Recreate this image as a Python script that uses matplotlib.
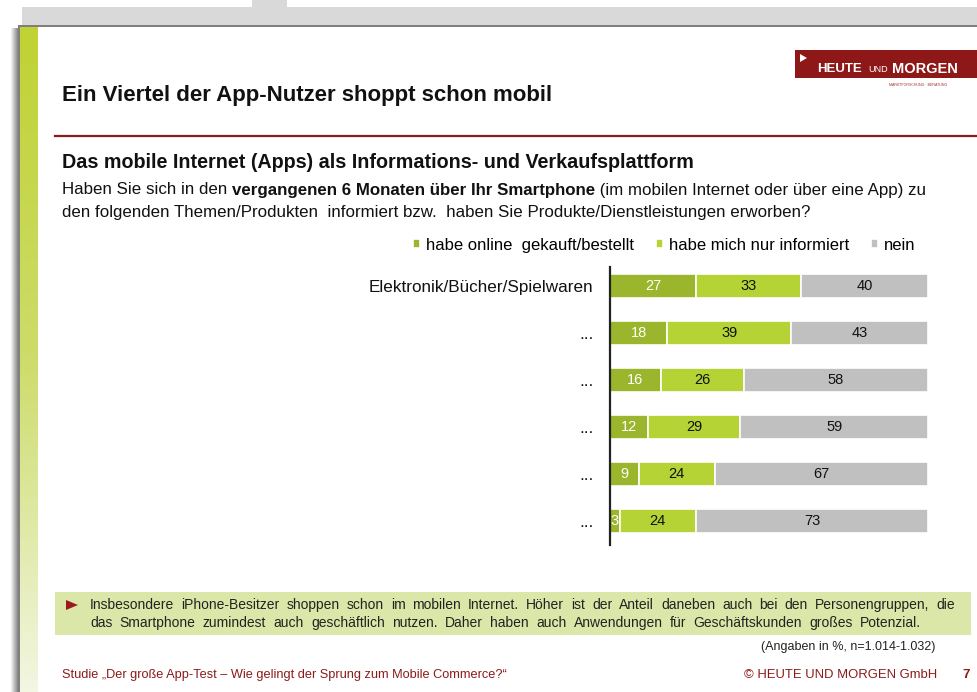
import matplotlib
matplotlib.use("Agg")
import matplotlib.pyplot as plt
import numpy as np
from matplotlib.patches import Rectangle, Polygon
from matplotlib.colors import LinearSegmentedColormap

plt.rcParams['font.family'] = ['Liberation Sans', 'DejaVu Sans']

# Daten
kategorien = ["Elektronik/Bücher/Spielwaren", "...", "...", "...", "...", "..."]
gekauft = [27, 18, 16, 12, 9, 3]
informiert = [33, 39, 26, 29, 24, 24]
nein = [40, 43, 58, 59, 67, 73]
serien = ["habe online  gekauft/bestellt", "habe mich nur informiert", "nein"]

DUNKELGRUEN = '#9bb52c'
HELLGRUEN = '#b5d334'
GRAU = '#c0c0c0'
ROT = '#8b1a1a'

W, H = 978, 692
fig = plt.figure(figsize=(W / 100, H / 100), dpi=100)

# Hintergrund-Achse in Pixelkoordinaten
bg = fig.add_axes([0, 0, 1, 1])
bg.axis('off')

# Folienrahmen
bg.add_patch(Rectangle((252, 0), 35, 8, color='#d9d9d9', lw=0))
bg.add_patch(Rectangle((22, 7), W - 22, 19, color='#d9d9d9', lw=0))
schatten = np.linspace(1, 0.55, 8).reshape(1, -1)
bg.imshow(schatten, extent=(10, 18, H, 28), cmap='gray', vmin=0, vmax=1, aspect='auto')
bg.add_patch(Rectangle((18, 24.5), W - 18, 2.5, color='#7f7f7f', lw=0))
bg.add_patch(Rectangle((17.5, 26), 2.5, H - 26, color='#7f7f7f', lw=0))
# gruener Streifen mit Verlauf
verlauf = np.linspace(0, 1, 200).reshape(-1, 1)
cm_streifen = LinearSegmentedColormap.from_list('s', ['#c0d234', '#cddc6a', '#f3f6e2'])
bg.imshow(verlauf, extent=(20, 38, H, 27), cmap=cm_streifen, aspect='auto', origin='upper')
bg.set_xlim(0, W)
bg.set_ylim(H, 0)

# Logo
bg.add_patch(Rectangle((795, 50), W - 795, 28, color='#8e1717', lw=0))
bg.add_patch(Polygon([(800, 54), (800, 62), (807, 58)], closed=True, color='white', lw=0))
bg.text(862, 69, "HEUTE", color='white', fontsize=9.5, fontweight='bold', va='center', ha='right')
bg.text(878, 69.5, "UND", color='white', fontsize=6.5, va='center', ha='center')
bg.text(892, 69, "MORGEN", color='white', fontsize=10.5, fontweight='bold', va='center', ha='left')
bg.text(918, 85, "MARKTFORSCHUNG · BERATUNG", color='#a03030', fontsize=2.6, va='center', ha='center')

# Titel
bg.text(62, 96, "Ein Viertel der App-Nutzer shoppt schon mobil", fontsize=16, fontweight='bold',
        va='center', ha='left', color='#111111')
bg.plot([55, W], [136, 136], color=ROT, lw=1.6)

bg.text(62, 162, "Das mobile Internet (Apps) als Informations- und Verkaufsplattform", fontsize=14.2,
        fontweight='bold', va='center', ha='left', color='#111111')


def breite(t):
    renderer = fig.canvas.get_renderer()
    return t.get_window_extent(renderer=renderer).width * W / fig.bbox.width


def zeile(x, y, teile, fontsize):
    for txt, fett in teile:
        t = bg.text(x, y, txt, fontsize=fontsize, fontweight='bold' if fett else 'normal',
                    va='center', ha='left', color='#111111')
        x += breite(t)


def blocksatz(x0, x1, y, satz, fontsize):
    woerter = satz.split()
    texte = [bg.text(0, y, w, fontsize=fontsize, va='center', ha='left', color='#222222') for w in woerter]
    breiten = [breite(t) for t in texte]
    luecke = (x1 - x0 - sum(breiten)) / (len(woerter) - 1)
    x = x0
    for t, b in zip(texte, breiten):
        t.set_x(x)
        x += b + luecke


zeile(62, 190, [("Haben Sie sich in den ", False),
                ("vergangenen 6 Monaten über Ihr Smartphone", True),
                (" (im mobilen Internet oder über eine App) zu", False)], 12.2)
zeile(62, 212, [("den folgenden Themen/Produkten  informiert bzw.  haben Sie Produkte/Dienstleistungen erworben?", False)], 12.2)

# Balkendiagramm
ax = fig.add_axes([610 / W, 1 - 544.5 / H, 318 / W, 277.3 / H])
y = np.arange(len(kategorien))
links = np.zeros(len(kategorien))
farben = [DUNKELGRUEN, HELLGRUEN, GRAU]
textfarben = ['white', '#111111', '#111111']
for werte, name, farbe, tf in zip([gekauft, informiert, nein], serien, farben, textfarben):
    balken = ax.barh(y, werte, left=links, height=0.5, color=farbe, edgecolor='white',
                     linewidth=1.2, label=name)
    ax.bar_label(balken, labels=[str(v) for v in werte], label_type='center', color=tf, fontsize=10.5)
    links += np.array(werte)

ax.set_xlim(0, 100)
ax.set_ylim(5.5, -0.4)
ax.set_yticks(y)
ax.set_yticklabels(kategorien, fontsize=12.3, color='#111111')
ax.tick_params(axis='y', length=0, pad=12)
ax.set_xticks([])
for s in ['top', 'right', 'bottom']:
    ax.spines[s].set_visible(False)
ax.spines['left'].set_linewidth(1.6)
ax.spines['left'].set_color('#222222')
ax.patch.set_alpha(0)

ax.legend(loc='center right', bbox_to_anchor=(924 / W, 1 - 245 / H), bbox_transform=fig.transFigure,
          ncol=3, frameon=False, fontsize=12, handlelength=0.45, handleheight=0.45,
          handletextpad=0.35, columnspacing=1.3, borderpad=0)

# Hinweisbox
bg.add_patch(Rectangle((55, 592), 916, 43, color='#dbe7a8', lw=0))
bg.add_patch(Polygon([(66, 600), (66, 610), (78, 605)], closed=True, color='#9b1b1b', lw=0))
blocksatz(90, 955, 605, "Insbesondere iPhone-Besitzer shoppen schon im mobilen Internet. Höher ist der Anteil daneben auch bei den Personengruppen, die", 10)
blocksatz(90, 921, 623, "das Smartphone zumindest auch geschäftlich nutzen. Daher haben auch Anwendungen für Geschäftskunden großes Potenzial.", 10)
bg.text(935, 647, "(Angaben in %, n=1.014-1.032)", fontsize=9, va='center', ha='right', color='#222222')

# Fusszeile
bg.text(62, 675, "Studie „Der große App-Test – Wie gelingt der Sprung zum Mobile Commerce?“", fontsize=9.2,
        va='center', ha='left', color=ROT)
bg.text(937, 675, "© HEUTE UND MORGEN GmbH", fontsize=9.4, va='center', ha='right', color=ROT)
bg.text(966, 675, "7", fontsize=9.5, fontweight='bold', va='center', ha='center', color=ROT)

fig.savefig('out.png', dpi=100)
